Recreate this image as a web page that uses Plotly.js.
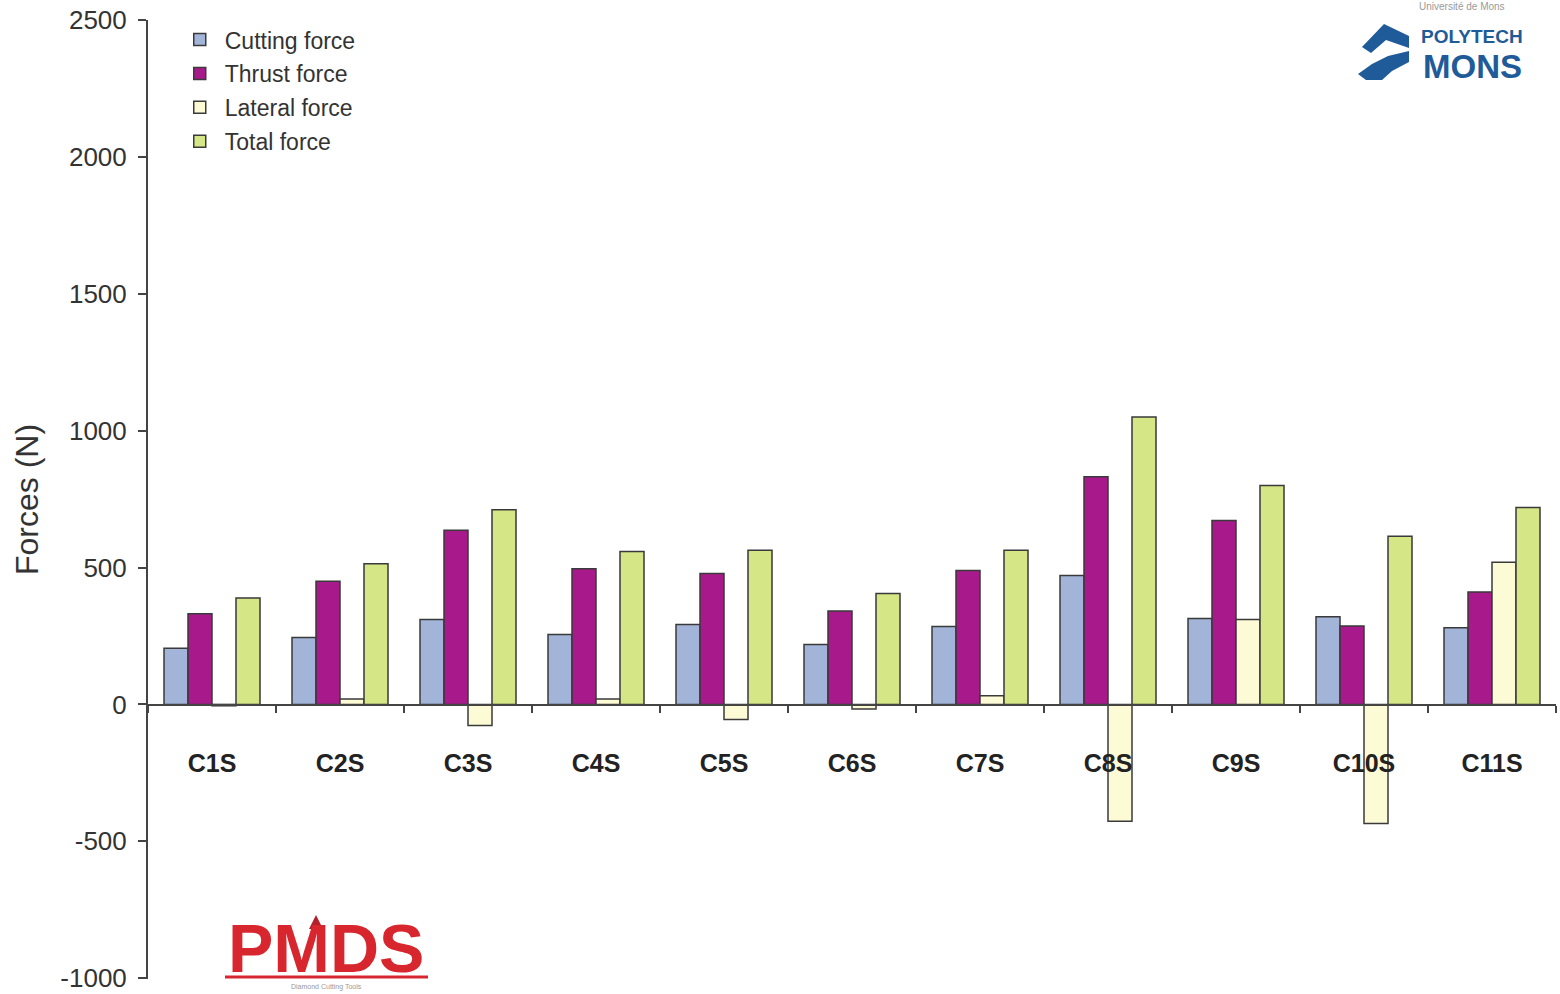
<!DOCTYPE html>
<html>
<head>
<meta charset="utf-8">
<script src="https://cdn.plot.ly/plotly-3.0.1.min.js"></script>
<style>html,body{margin:0;padding:0;background:#fff;}#chart{width:1560px;height:994px;}</style>
</head>
<body>
<div id="chart"></div>
<script>
var categories = ["C1S","C2S","C3S","C4S","C5S","C6S","C7S","C8S","C9S","C10S","C11S"];
var cuttingForce = [205, 244, 310, 255, 292, 219, 285, 471, 314, 320, 280];
var thrustForce  = [331, 450, 636, 496, 478, 341, 489, 832, 672, 286, 411];
var lateralForce = [-5, 20, -77, 20, -55, -17, 32, -427, 310, -435, 519];
var totalForce   = [389, 514, 711, 559, 563, 405, 563, 1050, 800, 614, 719];
var seriesNames  = ["Cutting force","Thrust force","Lateral force","Total force"];
var yTickVals    = [-1000, -500, 0, 500, 1000, 1500, 2000, 2500];
var yTickText    = ["-1000", "-500", "0", "500", "1000", "1500", "2000", "2500"];

var colors = ["#a3b4d9", "#a81a8c", "#fdfad6", "#d5e686"];
var values = [cuttingForce, thrustForce, lateralForce, totalForce];
var FONT = "Liberation Sans, Arial, sans-serif";

var traces = values.map(function(v, i){
  return {
    type: "bar", x: categories, y: v, name: seriesNames[i], legendgroup: "g" + i,
    marker: {color: colors[i], line: {color: "#3a3a3a", width: 1.5}},
    hoverinfo: "x+y+name"
  };
});

// helpers for decoration placement (pixel -> paper)
var L = 148, R = 4, T = 20, B = 15, W = 1560, H = 994;
function px(x){ return (x - L) / (W - L - R); }
function py(y){ return (H - B - y) / (H - T - B); }
function poly(pts){
  return pts.map(function(p, k){ return (k ? "L" : "M") + px(p[0]) + "," + py(p[1]); }).join(" ") + " Z";
}

var shapes = [
  // Polytech icon
  {type:"path", xref:"paper", yref:"paper", fillcolor:"#1f5b98", line:{width:0},
   path: poly([[1362,47],[1384,24],[1409,36],[1409,48],[1386,40],[1371,53]])},
  {type:"path", xref:"paper", yref:"paper", fillcolor:"#1f5b98", line:{width:0},
   path: poly([[1358,74],[1372,64],[1388,56],[1409,51],[1409,62],[1392,71],[1382,80],[1366,80]])},
  // PMDS underline
  {type:"line", xref:"paper", yref:"paper", x0:px(225), x1:px(428), y0:py(977), y1:py(977), line:{color:"#d8262e", width:3}},
  // PMDS triangle
  {type:"path", xref:"paper", yref:"paper", fillcolor:"#b3202a", line:{width:0},
   path: poly([[309,929],[316,915],[323,929]])}
];

var annotations = [
  {xref:"paper", yref:"paper", x:px(1472), y:py(37), xanchor:"center", yanchor:"middle", showarrow:false,
   text:"POLYTECH", font:{family:FONT, size:19, color:"#1f5b98", weight:"bold"}},
  {xref:"paper", yref:"paper", x:px(1472), y:py(66), xanchor:"center", yanchor:"middle", showarrow:false,
   text:"MONS", font:{family:FONT, size:33, color:"#1f5b98", weight:"bold"}},
  {xref:"paper", yref:"paper", x:px(1462), y:py(7), xanchor:"center", yanchor:"middle", showarrow:false,
   text:"Université de Mons", font:{family:FONT, size:10, color:"#9a9a9a"}},
  {xref:"paper", yref:"paper", x:px(326), y:py(948), xanchor:"center", yanchor:"middle", showarrow:false,
   text:"PMDS", font:{family:FONT, size:68, color:"#d8262e", weight:"bold"}},
  {xref:"paper", yref:"paper", x:px(326), y:py(987), xanchor:"center", yanchor:"middle", showarrow:false,
   text:"Diamond Cutting Tools", font:{family:FONT, size:7, color:"#999"}}
];

var layout = {
  width: W, height: H,
  margin: {l: L, r: R, t: T, b: B},
  paper_bgcolor: "#fff", plot_bgcolor: "#fff",
  barmode: "group", bargap: 0.25, bargroupgap: 0,
  showlegend: true,
  legend: {x: 0.019, y: 1.002, xanchor: "left", yanchor: "top", bgcolor: "rgba(0,0,0,0)",
           font: {family: FONT, size: 23, color: "#333"}, traceorder: "grouped", tracegroupgap: 1,
           itemwidth: 40},
  xaxis: {
    type: "category", anchor: "free", position: 1000/3500,
    showline: true, linecolor: "#444", linewidth: 2,
    ticks: "outside", tickson: "boundaries", ticklen: 7, tickcolor: "#444", tickwidth: 2,
    tickfont: {family: FONT, size: 25, color: "#222", weight: "bold"},
    ticklabelstandoff: 36,
    showgrid: false, zeroline: false, fixedrange: true
  },
  yaxis: {
    range: [-1003, 2500], tickvals: yTickVals, ticktext: yTickText,
    showline: true, linecolor: "#444", linewidth: 2,
    ticks: "outside", ticklen: 8, tickcolor: "#444", tickwidth: 2,
    tickfont: {family: FONT, size: 26, color: "#333"},
    ticklabelstandoff: 6, ticklabeloverflow: "allow",
    showgrid: false, zeroline: false, automargin: false,
    title: {text: "Forces (N)", font: {family: FONT, size: 32, color: "#333"}, standoff: 12}
  },
  shapes: shapes,
  annotations: annotations
};

Plotly.newPlot("chart", traces, layout, {displayModeBar: false});
</script>
</body>
</html>
